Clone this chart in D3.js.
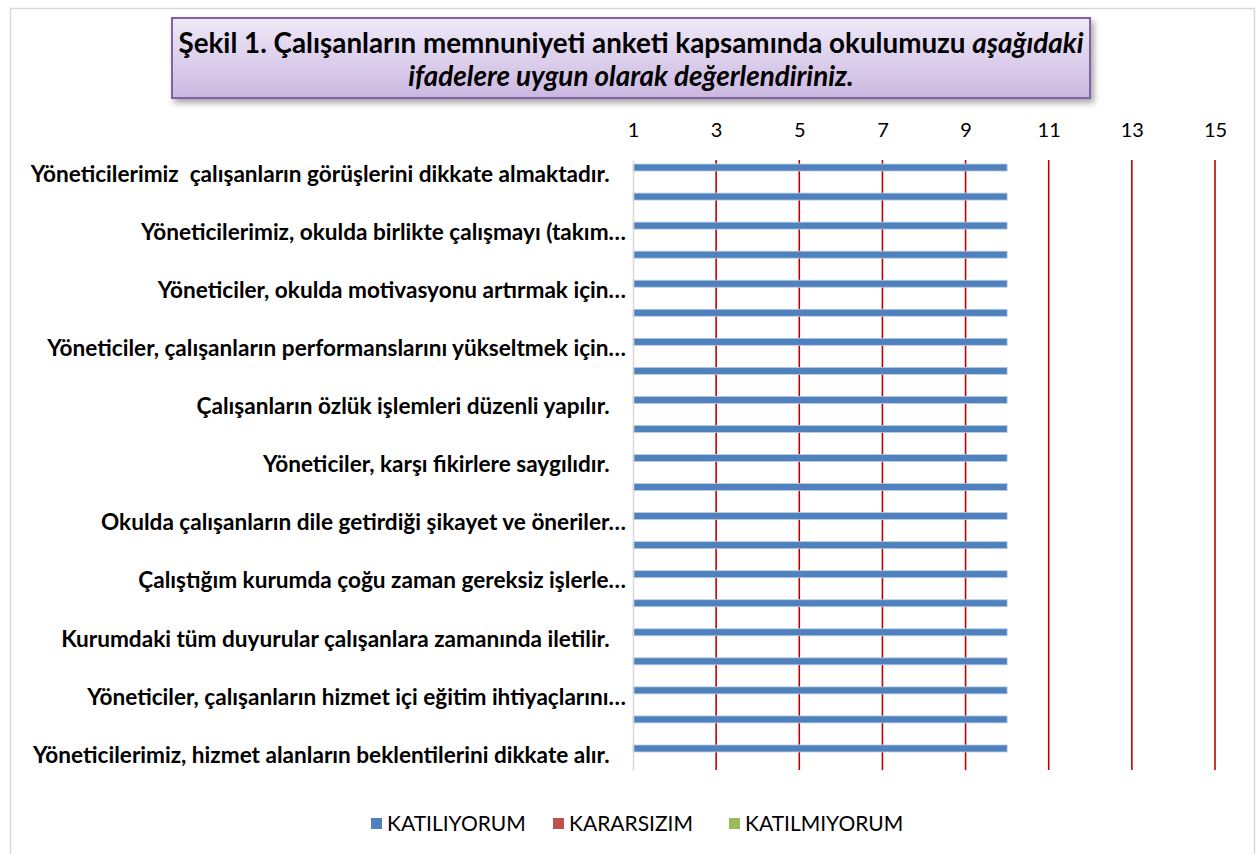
<!DOCTYPE html>
<html>
<head>
<meta charset="utf-8">
<script src="https://cdn.jsdelivr.net/npm/d3@7"></script>
<style>
  body { margin: 0; background: #fff; }
  svg { display: block; font-family: Lato, "Open Sans", sans-serif; }
  .cat text { white-space: pre; }
</style>
</head>
<body>
<div id="chart"></div>
<script>
// Chart size
const width = 1259;
const height = 854;
const margin = {left: 633, right: 44, top: 160, bottom: 84};

// Data: 21 items, Excel only shows every second label
const categories = [
  "Yöneticilerimiz  çalışanların görüşlerini dikkate almaktadır.   ",
  "",
  "Yöneticilerimiz, okulda birlikte çalışmayı (takım…",
  "",
  "Yöneticiler, okulda motivasyonu artırmak için…",
  "",
  "Yöneticiler, çalışanların performanslarını yükseltmek için…",
  "",
  "Çalışanların özlük işlemleri düzenli yapılır.   ",
  "",
  "Yöneticiler, karşı fikirlere saygılıdır.   ",
  "",
  "Okulda çalışanların dile getirdiği şikayet ve öneriler…",
  "",
  "Çalıştığım kurumda çoğu zaman gereksiz işlerle…",
  "",
  "Kurumdaki tüm duyurular çalışanlara zamanında iletilir.   ",
  "",
  "Yöneticiler, çalışanların hizmet içi eğitim ihtiyaçlarını…",
  "",
  "Yöneticilerimiz, hizmet alanların beklentilerini dikkate alır.   "
];
const seriesNames = ["KATILIYORUM", "KARARSIZIM", "KATILMIYORUM"];
const katiliyorum  = [10, 10, 10, 10, 10, 10, 10, 10, 10, 10, 10, 10, 10, 10, 10, 10, 10, 10, 10, 10, 10];
const kararsizim   = [0, 0, 0, 0, 0, 0, 0, 0, 0, 0, 0, 0, 0, 0, 0, 0, 0, 0, 0, 0, 0];
const katilmiyorum = [0, 0, 0, 0, 0, 0, 0, 0, 0, 0, 0, 0, 0, 0, 0, 0, 0, 0, 0, 0, 0];
const xTicks = [1, 3, 5, 7, 9, 11, 13, 15];
const colors = ["#4F81BD", "#C0504D", "#9BBB59"];

const seriesValues = [katiliyorum, kararsizim, katilmiyorum];

const svg = d3.select("#chart")
  .append("svg")
  .attr("width", width)
  .attr("height", height);

const defs = svg.append("defs");

// title box gradient + shadow
const grad = defs.append("linearGradient")
  .attr("id", "titleGrad")
  .attr("x1", 0).attr("y1", 0).attr("x2", 0).attr("y2", 1);
grad.append("stop").attr("offset", "0%").attr("stop-color", "#EFE9F7");
grad.append("stop").attr("offset", "100%").attr("stop-color", "#CBB7E1");

const shadow = defs.append("filter")
  .attr("id", "shadow")
  .attr("x", "-5%").attr("y", "-20%")
  .attr("width", "115%").attr("height", "160%");
shadow.append("feDropShadow")
  .attr("dx", 3).attr("dy", 4)
  .attr("stdDeviation", 3)
  .attr("flood-color", "#000")
  .attr("flood-opacity", 0.35);

// outer chart border
svg.append("rect")
  .attr("x", 10.5).attr("y", 8.5)
  .attr("width", 1244).attr("height", 860)
  .attr("fill", "none")
  .attr("stroke", "#D9D9D9")
  .attr("stroke-width", 1.5);

/*
  Title
*/
svg.append("rect")
  .attr("x", 172).attr("y", 18)
  .attr("width", 918).attr("height", 80)
  .attr("fill", "url(#titleGrad)")
  .attr("stroke", "#8064A2")
  .attr("stroke-width", 2)
  .attr("filter", "url(#shadow)");

const title = svg.append("text")
  .attr("text-anchor", "middle")
  .attr("font-size", "27.8px")
  .attr("font-weight", "bold")
  .attr("fill", "#000");

const line1 = title.append("tspan").attr("x", 631).attr("y", 53);
line1.append("tspan").text("Şekil 1. Çalışanların memnuniyeti anketi kapsamında okulumuzu ");
line1.append("tspan").attr("font-style", "italic").text("aşağıdaki");
title.append("tspan")
  .attr("x", 631).attr("y", 86)
  .attr("font-style", "italic")
  .text("ifadelere uygun olarak değerlendiriniz.");

/*
  Scales
*/
const xScale = d3.scaleLinear()
  .domain([1, 15])
  .range([margin.left, width - margin.right]);

const yScale = d3.scaleBand()
  .domain(d3.range(categories.length))
  .range([margin.top, height - margin.bottom]);

const ySub = d3.scaleBand()
  .domain(seriesNames)
  .range([0, yScale.bandwidth()])
  .paddingOuter(0.575);

// red gridlines
svg.append("g")
  .selectAll("line")
  .data(xTicks.filter(t => t > 1))
  .enter()
  .append("line")
    .attr("x1", d => xScale(d))
    .attr("x2", d => xScale(d))
    .attr("y1", margin.top)
    .attr("y2", height - margin.bottom)
    .attr("stroke", "#C00000")
    .attr("stroke-width", 1.6);

// value axis on top
const xAxis = svg.append("g")
  .attr("transform", `translate(0, ${margin.top})`)
  .call(d3.axisTop(xScale).tickValues(xTicks).tickSize(0).tickPadding(23));
xAxis.select(".domain").remove();
xAxis.selectAll("text")
  .attr("font-family", "Lato, sans-serif")
  .attr("font-size", "20px")
  .attr("fill", "#000");

/*
  Bars
*/
const rows = categories.map((c, i) => ({
  i: i,
  vals: seriesNames.map((s, k) => ({name: s, value: seriesValues[k][i], color: colors[k]}))
}));

const groups = svg.selectAll(".row")
  .data(rows)
  .enter()
  .append("g")
    .attr("class", "row")
    .attr("transform", d => `translate(0, ${yScale(d.i)})`);

groups.selectAll("rect")
  .data(d => d.vals.filter(v => v.value > 1))
  .enter()
  .append("rect")
    .attr("x", xScale(1))
    .attr("y", d => ySub(d.name))
    .attr("width", d => xScale(d.value) - xScale(1))
    .attr("height", ySub.bandwidth())
    .attr("fill", d => d.color)
    .attr("stroke", "#B9CDE5")
    .attr("stroke-width", 0.8);

// category axis
const yAxis = svg.append("g")
  .attr("class", "cat")
  .attr("transform", `translate(${margin.left}, 0)`)
  .call(d3.axisLeft(yScale).tickSize(0).tickPadding(7).tickFormat(i => categories[i]));
yAxis.select(".domain")
  .attr("stroke", "#D9D9D9")
  .attr("stroke-width", 1.5);
yAxis.selectAll("text")
  .attr("font-family", "Lato, sans-serif")
  .attr("font-size", "22.6px")
  .attr("font-weight", "bold")
  .attr("fill", "#000");

/*
  Legend
*/
const legendX = [371, 553, 729];
const legend = svg.selectAll(".legend")
  .data(seriesNames)
  .enter()
  .append("g")
    .attr("class", "legend")
    .attr("transform", (d, i) => `translate(${legendX[i]}, 823)`);

legend.append("rect")
  .attr("x", 0).attr("y", -5)
  .attr("width", 11).attr("height", 11)
  .attr("fill", (d, i) => colors[i]);

legend.append("text")
  .attr("x", 16)
  .attr("y", 1)
  .attr("dy", "0.35em")
  .attr("font-size", "21px")
  .attr("fill", "#000")
  .text(d => d);
</script>
</body>
</html>
